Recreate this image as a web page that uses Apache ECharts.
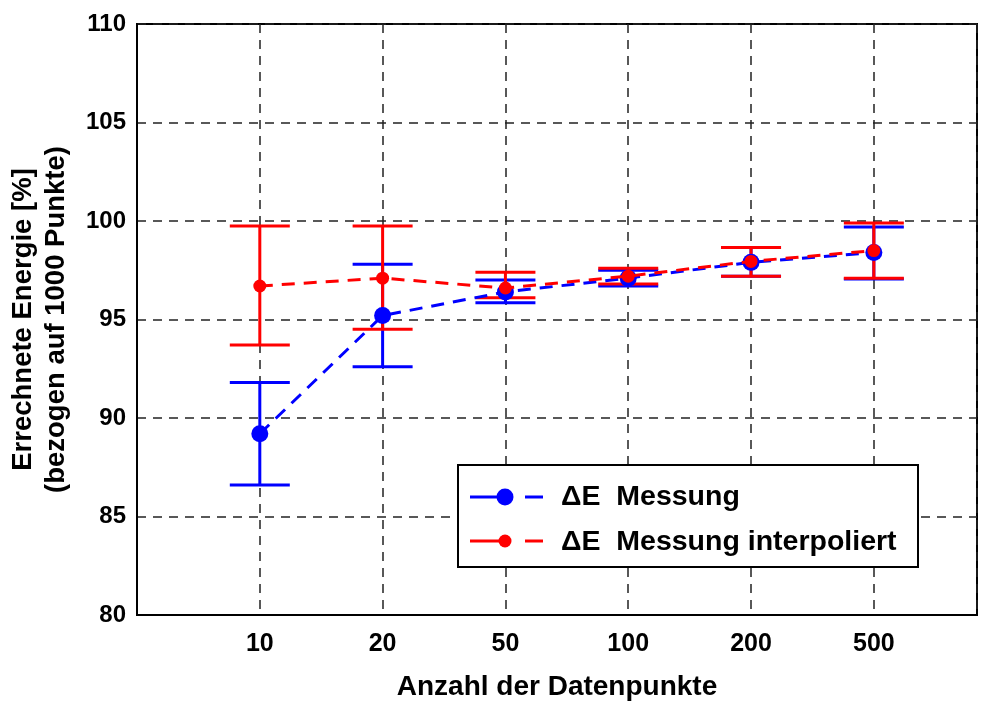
<!DOCTYPE html>
<html>
<head>
<meta charset="utf-8">
<script src="https://cdn.jsdelivr.net/npm/echarts@6/dist/echarts.min.js"></script>
<style>html,body{margin:0;padding:0;background:#fff}#c{width:981px;height:702px}</style>
</head>
<body>
<div id="c"></div>
<script>
// Data
var categories = ['10', '20', '50', '100', '200', '500'];
var yTicks = [80, 85, 90, 95, 100, 105, 110];
var blueMean = [89.2, 95.2, 96.4, 97.1, 97.9, 98.4];
var blueLow  = [86.6, 92.6, 95.85, 96.7, 97.2, 97.05];
var blueHigh = [91.8, 97.8, 97.0, 97.5, 98.65, 99.7];
var redMean  = [96.7, 97.1, 96.6, 97.2, 97.95, 98.5];
var redLow   = [93.7, 94.5, 96.1, 96.8, 97.2, 97.1];
var redHigh  = [99.75, 99.75, 97.4, 97.6, 98.65, 99.9];
var legendNames = ['\u0394E  Messung', '\u0394E  Messung interpoliert'];

var BLUE = '#0000ff', RED = '#ff0000';

function pts(arr) { return arr.map(function (v, i) { return [i + 1, v]; }); }
function errs(lo, hi) { return lo.map(function (v, i) { return [i + 1, v, hi[i]]; }); }

function errRender(color) {
  return function (params, api) {
    var x = api.value(0);
    var top = api.coord([x, api.value(2)]);
    var bot = api.coord([x, api.value(1)]);
    var hw = 30;
    var st = { stroke: color, lineWidth: 3 };
    return {
      type: 'group',
      children: [
        { type: 'line', shape: { x1: top[0], y1: top[1], x2: bot[0], y2: bot[1] }, style: st },
        { type: 'line', shape: { x1: top[0] - hw, y1: top[1], x2: top[0] + hw, y2: top[1] }, style: st },
        { type: 'line', shape: { x1: bot[0] - hw, y1: bot[1], x2: bot[0] + hw, y2: bot[1] }, style: st }
      ]
    };
  };
}

var chart = echarts.init(document.getElementById('c'));
var font = 'Liberation Sans, Arial, sans-serif';

var lgX = 458, lgY = 465, lgW = 460, lgH = 102;
chart.setOption({
  animation: false,
  grid: { left: 137, right: 4, top: 24, bottom: 87, show: true, borderColor: '#000', borderWidth: 2,
          containLabel: false, outerBoundsMode: 'none' },
  xAxis: {
    type: 'value', min: 0, max: 6.84, interval: 1,
    name: 'Anzahl der Datenpunkte', nameLocation: 'middle', nameGap: 58,
    nameTextStyle: { fontFamily: font, fontWeight: 'bold', fontSize: 28, color: '#000' },
    axisLine: { show: true, lineStyle: { color: '#000', width: 2 } },
    axisTick: { show: false },
    axisLabel: {
      fontFamily: font, fontWeight: 'bold', fontSize: 25, color: '#000', margin: 17,
      showMaxLabel: false, showMinLabel: false,
      formatter: function (v) { var i = Math.round(v); return (Math.abs(v - i) < 1e-6 && i >= 1 && i <= categories.length) ? categories[i - 1] : ''; }
    },
    splitLine: { show: true, lineStyle: { color: '#222', type: [9, 7], width: 1.5 } }
  },
  yAxis: {
    type: 'value', min: yTicks[0], max: yTicks[yTicks.length - 1], interval: 5,
    name: 'Errechnete Energie [%]\n(bezogen auf 1000 Punkte)', nameLocation: 'middle', nameGap: 64,
    nameTextStyle: { fontFamily: font, fontWeight: 'bold', fontSize: 27.5, color: '#000', lineHeight: 33 },
    axisLine: { show: true, lineStyle: { color: '#000', width: 2 } },
    axisTick: { show: false },
    axisLabel: { fontFamily: font, fontWeight: 'bold', fontSize: 24, color: '#000', margin: 11 },
    splitLine: { show: true, lineStyle: { color: '#222', type: [9, 7], width: 1.5 } }
  },
  series: [
    { type: 'custom', name: 'blueErr', renderItem: errRender(BLUE), data: errs(blueLow, blueHigh), z: 2, encode: { x: 0, y: [1, 2] } },
    { type: 'custom', name: 'redErr', renderItem: errRender(RED), data: errs(redLow, redHigh), z: 3, encode: { x: 0, y: [1, 2] } },
    { type: 'line', name: legendNames[0], data: pts(blueMean), symbol: 'circle', symbolSize: 17, z: 4,
      itemStyle: { color: BLUE }, lineStyle: { color: BLUE, width: 3, type: [13, 9] } },
    { type: 'line', name: legendNames[1], data: pts(redMean), symbol: 'circle', symbolSize: 13, z: 5,
      itemStyle: { color: RED }, lineStyle: { color: RED, width: 3, type: [13, 9] } }
  ],
  graphic: [
    { type: 'rect', shape: { x: lgX, y: lgY, width: lgW, height: lgH }, style: { fill: '#fff', stroke: '#000', lineWidth: 2 }, z: 100 },
    { type: 'line', shape: { x1: 470, y1: 497, x2: 505, y2: 497 }, style: { stroke: BLUE, lineWidth: 3 }, z: 101 },
    { type: 'circle', shape: { cx: 505, cy: 497, r: 8.5 }, style: { fill: BLUE }, z: 101 },
    { type: 'line', shape: { x1: 525, y1: 497, x2: 543, y2: 497 }, style: { stroke: BLUE, lineWidth: 3 }, z: 101 },
    { type: 'text', left: 561, top: 483, style: { text: legendNames[0], font: 'bold 28.5px ' + font, fill: '#000' }, z: 101 },
    { type: 'line', shape: { x1: 470, y1: 541, x2: 505, y2: 541 }, style: { stroke: RED, lineWidth: 3 }, z: 101 },
    { type: 'circle', shape: { cx: 505, cy: 541, r: 6.5 }, style: { fill: RED }, z: 101 },
    { type: 'line', shape: { x1: 525, y1: 541, x2: 543, y2: 541 }, style: { stroke: RED, lineWidth: 3 }, z: 101 },
    { type: 'text', left: 561, top: 528, style: { text: legendNames[1], font: 'bold 28.5px ' + font, fill: '#000' }, z: 101 }
  ]
});
</script>
</body>
</html>
